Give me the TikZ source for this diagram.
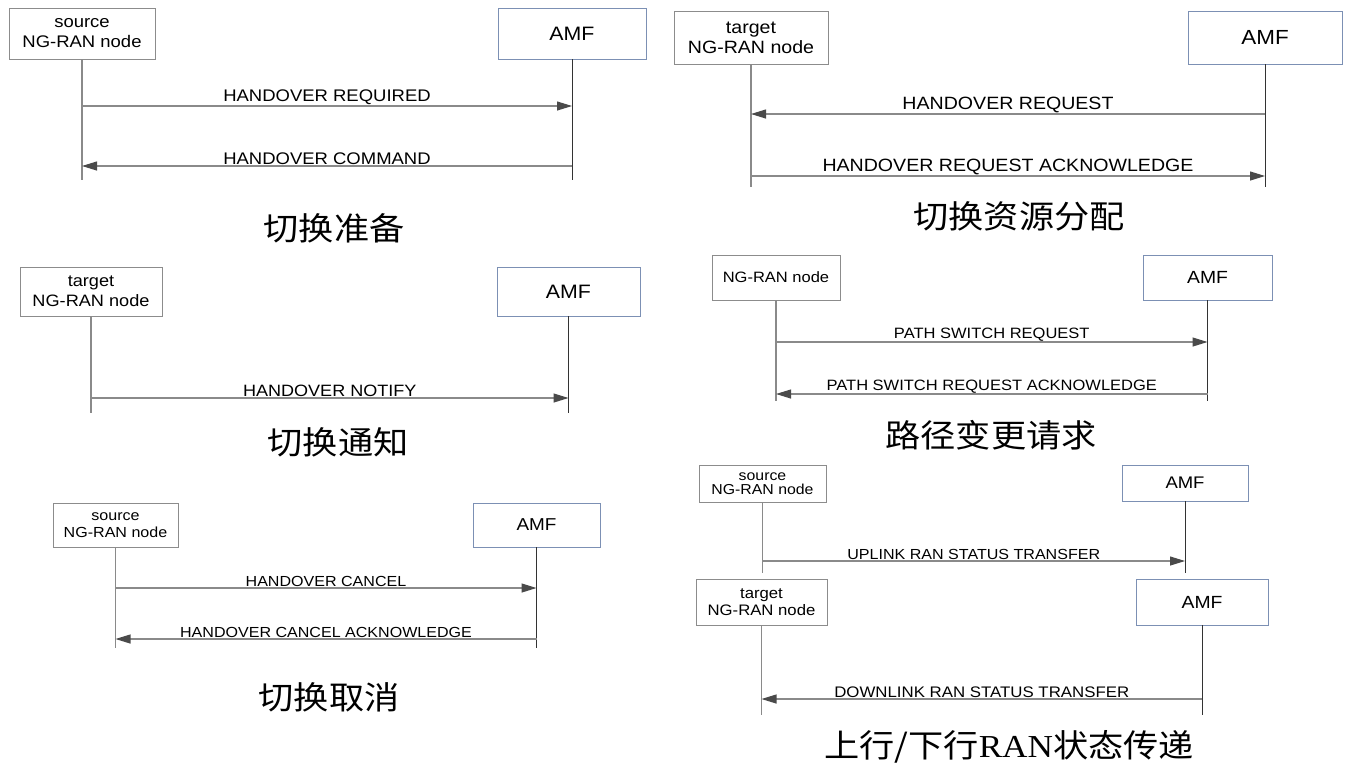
\documentclass[tikz,border=0pt]{standalone}
\usepackage{fontspec}
\usepackage{tikz}
\usetikzlibrary{arrows.meta}

\setmainfont{Liberation Sans}
\newfontfamily\arialx[FakeStretch=1.1]{Liberation Sans}
\newfontfamily\cjk[FakeStretch=1.1]{Noto Sans CJK SC}
\newfontfamily\serifx[FakeStretch=1.1]{Liberation Serif}
\newcommand{\fs}[2]{\arialx\fontsize{#1}{#2}\selectfont}

\definecolor{boxgray}{HTML}{8C8C8C}
\definecolor{amfblue}{HTML}{7C90B4}
\definecolor{linegray}{HTML}{8A8A8A}
\definecolor{tipgray}{HTML}{4A4A4A}

\tikzset{
  ranbox/.style={draw=boxgray, fill=white, align=center, inner sep=0pt},
  amfbox/.style={draw=amfblue, fill=white, align=center, inner sep=0pt},
  life/.style={draw=linegray, line width=0.55pt},
  amflife/.style={draw=black!80, line width=0.45pt},
  msg/.style={draw=linegray, line width=0.55pt,
    -{Triangle[length=7.5pt,width=4.5pt,color=tipgray]}},
  lbl/.style={midway, above, inner sep=0.3pt},
  title/.style={font=\cjk\fontsize{16}{18}\selectfont}
}

\begin{document}
\begin{tikzpicture}[x=0.5pt,y=-0.5pt]
            \useasboundingbox (0,0) rectangle (1352,772);

            \node[ranbox, minimum width=73pt, minimum height=25.5pt, font=\fs{8.4}{10}] (src1) at (82,33.5) {source\\NG-RAN node};
            \node[amfbox, minimum width=74pt, minimum height=25.5pt, font=\fs{9.7}{11}] (amf1) at (572,33.5) {AMF};
            \draw[life] (src1) -- (src1 |- 0,180);
            \draw[amflife] (amf1) -- (amf1 |- 0,180);
            \draw[msg] (src1 |- 0,106) -- (amf1 |- 0,106) node[lbl, font=\fs{8.4}{10}] {HANDOVER REQUIRED};
            \draw[msg] (amf1 |- 0,166) -- (src1 |- 0,166) node[lbl, font=\fs{8.4}{10}] {HANDOVER COMMAND};
            \node[title] (ttl1) at (334,228) {切换准备};

            \node[ranbox, minimum width=77pt, minimum height=26.5pt, font=\fs{8.9}{10}] (tgt2) at (751,37.5) {target\\NG-RAN node};
            \node[amfbox, minimum width=77pt, minimum height=26.5pt, font=\fs{10.2}{11}] (amf2) at (1265,37.5) {AMF};
            \draw[life] (tgt2) -- (tgt2 |- 0,187);
            \draw[amflife] (amf2) -- (amf2 |- 0,187);
            \draw[msg] (amf2 |- 0,114) -- (tgt2 |- 0,114) node[lbl, font=\fs{8.9}{10}] {HANDOVER REQUEST};
            \draw[msg] (tgt2 |- 0,176) -- (amf2 |- 0,176) node[lbl, font=\fs{8.9}{10}] {HANDOVER REQUEST ACKNOWLEDGE};
            \node[title] (ttl2) at (1019,216) {切换资源分配};

            \node[ranbox, minimum width=71pt, minimum height=24.5pt, font=\fs{8.25}{10}] (tgt3) at (91,291.5) {target\\NG-RAN node};
            \node[amfbox, minimum width=71.5pt, minimum height=24.5pt, font=\fs{9.7}{11}] (amf3) at (568.5,291.5) {AMF};
            \draw[life] (tgt3) -- (tgt3 |- 0,413);
            \draw[amflife] (amf3) -- (amf3 |- 0,413);
            \draw[msg] (tgt3 |- 0,398) -- (amf3 |- 0,398) node[lbl, font=\fs{8.2}{10}] {HANDOVER NOTIFY};
            \node[title] (ttl3) at (338,442) {切换通知};

            \node[ranbox, minimum width=64pt, minimum height=22.5pt, font=\fs{7.5}{9}] (ran4) at (776,277.5) {NG-RAN node};
            \node[amfbox, minimum width=64.5pt, minimum height=22.5pt, font=\fs{8.8}{10}] (amf4) at (1207.5,277.5) {AMF};
            \draw[life] (ran4) -- (ran4 |- 0,401);
            \draw[amflife] (amf4) -- (amf4 |- 0,401);
            \draw[msg] (ran4 |- 0,342) -- (amf4 |- 0,342) node[lbl, font=\fs{7.5}{9}] {PATH SWITCH REQUEST};
            \draw[msg] (amf4 |- 0,394) -- (ran4 |- 0,394) node[lbl, font=\fs{7.5}{9}] {PATH SWITCH REQUEST ACKNOWLEDGE};
            \node[title] (ttl4) at (991,435) {路径变更请求};

            \node[ranbox, minimum width=62.5pt, minimum height=22pt, font=\fs{7.3}{8.5}] (src5) at (115.5,525) {source\\NG-RAN node};
            \node[amfbox, minimum width=63.5pt, minimum height=22pt, font=\fs{8.6}{10}] (amf5) at (536.5,525) {AMF};
            \draw[life] (src5) -- (src5 |- 0,648);
            \draw[amflife] (amf5) -- (amf5 |- 0,648);
            \draw[msg] (src5 |- 0,588) -- (amf5 |- 0,588) node[lbl, font=\fs{7.3}{9}] {HANDOVER CANCEL};
            \draw[msg] (amf5 |- 0,639) -- (src5 |- 0,639) node[lbl, font=\fs{7.3}{9}] {HANDOVER CANCEL ACKNOWLEDGE};
            \node[title] (ttl5) at (329,697) {切换取消};

            \node[ranbox, minimum width=63.5pt, minimum height=18.5pt, font=\fs{7.2}{7}] (src6) at (762.5,483.5) {source\\NG-RAN node};
            \node[amfbox, minimum width=63pt, minimum height=18pt, font=\fs{8.4}{10}] (amf6) at (1185,483) {AMF};
            \draw[life] (src6) -- (src6 |- 0,573);
            \draw[amflife] (amf6) -- (amf6 |- 0,573);
            \draw[msg] (src6 |- 0,561) -- (amf6 |- 0,561) node[lbl, font=\fs{7.3}{9}] {UPLINK RAN STATUS TRANSFER};
            \node[ranbox, minimum width=65.5pt, minimum height=23pt, font=\fs{7.6}{8.5}] (tgt6) at (761.5,602) {target\\NG-RAN node};
            \node[amfbox, minimum width=66pt, minimum height=23pt, font=\fs{8.8}{10}] (amf7) at (1202,602) {AMF};
            \draw[life] (tgt6) -- (tgt6 |- 0,715);
            \draw[amflife] (amf7) -- (amf7 |- 0,715);
            \draw[msg] (amf7 |- 0,699) -- (tgt6 |- 0,699) node[lbl, font=\fs{7.65}{9}] {DOWNLINK RAN STATUS TRANSFER};
            \node[title] (ttl6) at (1009,747) {上行/下行{\serifx RAN}状态传递};
\end{tikzpicture}
\end{document}
